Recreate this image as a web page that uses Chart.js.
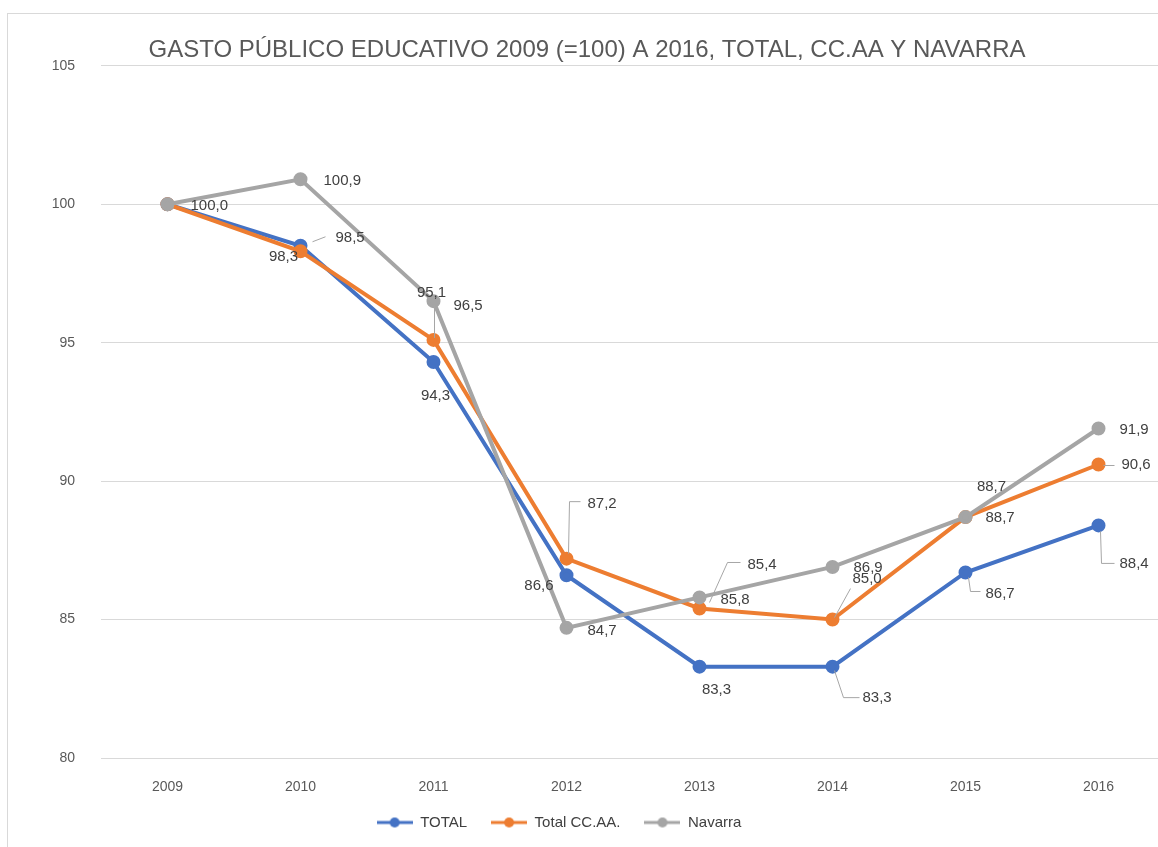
<!DOCTYPE html>
<html>
<head>
<meta charset="utf-8">
<script src="https://cdn.jsdelivr.net/npm/chart.js@4"></script>
<style>
  html, body { margin: 0; padding: 0; background: #fff; overflow: hidden; }
  #frame { position: absolute; left: 7px; top: 13px; width: 1200px; height: 900px; border: 1px solid #d9d9d9; }
  #ctx { position: absolute; left: 0; top: 0; }
</style>
</head>
<body>
<div id="frame"></div>
<canvas id="ctx" width="1174" height="847"></canvas>
<script>
const years = ['2009', '2010', '2011', '2012', '2013', '2014', '2015', '2016'];
const totalValues = [100.0, 98.5, 94.3, 86.6, 83.3, 83.3, 86.7, 88.4];
const ccaaValues = [100.0, 98.3, 95.1, 87.2, 85.4, 85.0, 88.7, 90.6];
const navarraValues = [100.0, 100.9, 96.5, 84.7, 85.8, 86.9, 88.7, 91.9];
const seriesNames = ['TOTAL', 'Total CC.AA.', 'Navarra'];
const seriesColors = ['#4472C4', '#ED7D31', '#A5A5A5'];

// where each value label sits next to its point (null = no label)
const labelPlaces = [
  [
    { dx: 23, dy: 2, align: 'left' },
    { dx: 35, dy: -8, align: 'left', leader: [[12, -4], [25, -9]] },
    { dx: 2, dy: 34, align: 'center' },
    { dx: -13, dy: 11, align: 'right' },
    { dx: 17, dy: 23, align: 'center' },
    { dx: 30, dy: 31, align: 'left', leader: [[2, 4], [11, 31], [27, 31]] },
    { dx: 20, dy: 21, align: 'left', leader: [[3, 5], [5, 19], [15, 19]] },
    { dx: 21, dy: 38, align: 'left', leader: [[2, 6], [3, 38], [16, 38]] }
  ],
  [
    null,
    { dx: -17, dy: 6, align: 'center' },
    { dx: -2, dy: -47, align: 'center', leader: [[1, -2], [1, -35]] },
    { dx: 21, dy: -55, align: 'left', leader: [[2, -5], [3, -57], [14, -57]] },
    { dx: 48, dy: -44, align: 'left', leader: [[10, -6], [28, -46], [41, -46]] },
    { dx: 20, dy: -41, align: 'left', leader: [[2, -2], [18, -31]] },
    { dx: 26, dy: -30, align: 'center' },
    { dx: 23, dy: 0, align: 'left', leader: [[5, 1], [16, 1]] }
  ],
  [
    null,
    { dx: 23, dy: 2, align: 'left' },
    { dx: 20, dy: 5, align: 'left' },
    { dx: 21, dy: 3, align: 'left' },
    { dx: 21, dy: 2, align: 'left' },
    { dx: 21, dy: 1, align: 'left' },
    { dx: 20, dy: 1, align: 'left' },
    { dx: 21, dy: 1, align: 'left' }
  ]
];

function fmt(v) {
  return v.toFixed(1).replace('.', ',');
}

function legendMarker(color) {
  const c = document.createElement('canvas');
  c.width = 36;
  c.height = 12;
  const g = c.getContext('2d');
  g.strokeStyle = color;
  g.lineWidth = 3;
  g.beginPath();
  g.moveTo(0, 6);
  g.lineTo(36, 6);
  g.stroke();
  g.fillStyle = color;
  g.beginPath();
  g.arc(18, 6, 5, 0, Math.PI * 2);
  g.fill();
  return c;
}

const valueLabels = {
  id: 'valueLabels',
  afterLayout(chart) {
    // excel puts the legend a bit left of the middle and closer to the axis
    const lg = chart.legend;
    lg.right -= 56;
    lg.top -= 7;
    lg.bottom -= 7;
  },
  afterDatasetsDraw(chart) {
    const c = chart.ctx;
    c.save();
    c.font = '15px "Liberation Sans", Arial, sans-serif';
    c.fillStyle = '#404040';
    c.textBaseline = 'middle';
    chart.data.datasets.forEach((ds, di) => {
      const meta = chart.getDatasetMeta(di);
      meta.data.forEach((pt, i) => {
        const place = labelPlaces[di][i];
        if (!place) return;
        if (place.leader) {
          c.strokeStyle = '#a6a6a6';
          c.lineWidth = 1;
          c.beginPath();
          place.leader.forEach((p, k) => {
            if (k == 0) c.moveTo(pt.x + p[0], pt.y + p[1]);
            else c.lineTo(pt.x + p[0], pt.y + p[1]);
          });
          c.stroke();
        }
        c.textAlign = place.align;
        c.fillText(fmt(ds.data[i]), pt.x + place.dx, pt.y + place.dy);
      });
    });
    c.restore();
  }
};

const datasets = [totalValues, ccaaValues, navarraValues].map((vals, i) => ({
  label: seriesNames[i],
  data: vals,
  borderColor: seriesColors[i],
  backgroundColor: seriesColors[i],
  borderWidth: 4,
  pointRadius: 5,
  pointHoverRadius: 5,
  pointBackgroundColor: seriesColors[i],
  pointBorderColor: seriesColors[i],
  tension: 0,
  order: 3 - i
}));

const chart = new Chart(document.getElementById('ctx'), {
  type: 'line',
  data: { labels: years, datasets: datasets },
  options: {
    responsive: false,
    animation: false,
    events: [],
    layout: { padding: { left: 0, right: 0, top: 0, bottom: 0 } },
    plugins: {
      tooltip: { enabled: false },
      title: {
        display: true,
        text: 'GASTO PÚBLICO EDUCATIVO 2009 (=100) A 2016, TOTAL, CC.AA Y NAVARRA',
        color: '#595959',
        font: { family: '"Liberation Sans", Arial, sans-serif', size: 24, weight: 'normal' },
        padding: { top: 36, bottom: 1 }
      },
      legend: {
        position: 'bottom',
        labels: {
          color: '#404040',
          font: { family: '"Liberation Sans", Arial, sans-serif', size: 15 },
          usePointStyle: true,
          pointStyleWidth: 36,
          padding: 24,
          generateLabels(ch) {
            return ch.data.datasets.map((ds, i) => ({
              text: ds.label,
              fillStyle: ds.borderColor,
              strokeStyle: ds.borderColor,
              lineWidth: 0,
              pointStyle: legendMarker(ds.borderColor),
              hidden: false,
              datasetIndex: i,
              fontColor: '#404040'
            }));
          }
        }
      }
    },
    scales: {
      x: {
        offset: true,
        grid: { display: false, drawTicks: false },
        border: { display: false },
        ticks: {
          color: '#595959',
          font: { family: '"Liberation Sans", Arial, sans-serif', size: 14 },
          padding: 21
        },
        afterFit(scale) { scale.height = 40; }
      },
      y: {
        min: 80,
        max: 105,
        ticks: {
          stepSize: 5,
          color: '#595959',
          font: { family: '"Liberation Sans", Arial, sans-serif', size: 14 },
          padding: 26
        },
        grid: { color: '#d9d9d9', lineWidth: 1, drawTicks: false },
        border: { display: false },
        afterFit(scale) { scale.width = 101; }
      }
    }
  },
  plugins: [valueLabels]
});
</script>
</body>
</html>
